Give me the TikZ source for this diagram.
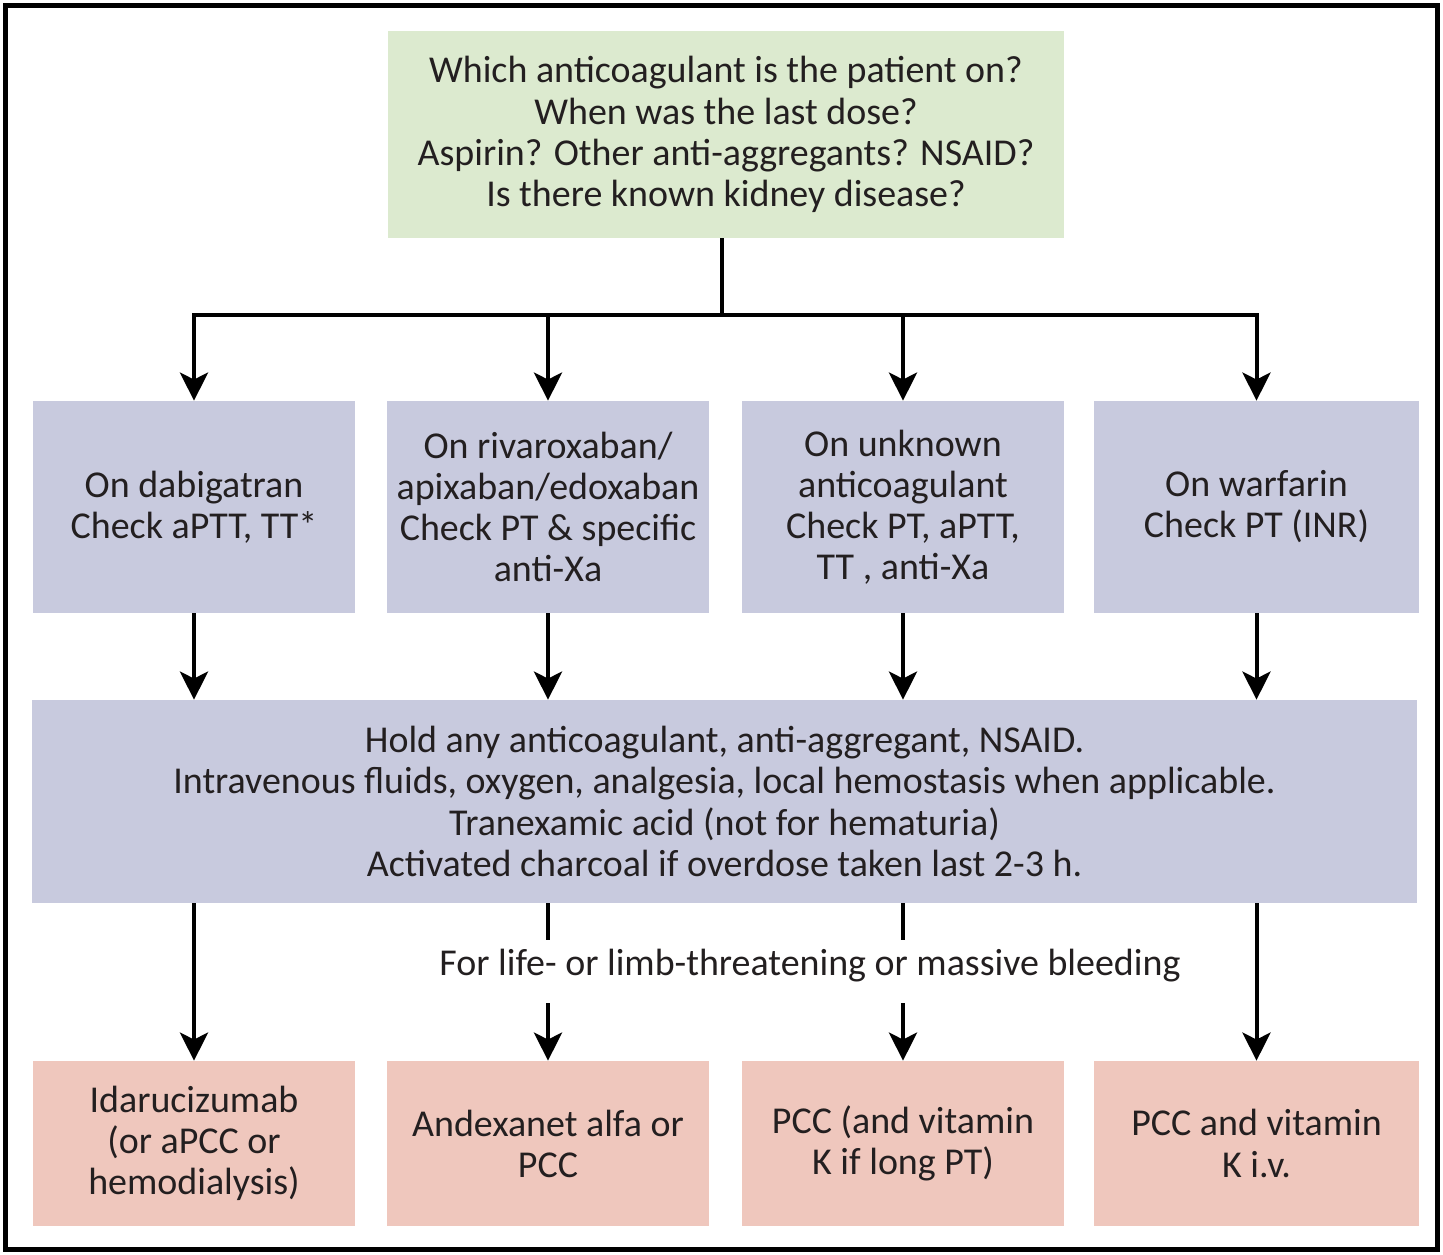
\documentclass[tikz,border=0pt]{standalone}
\usepackage{fontspec}
\setmainfont{Carlito}
\usetikzlibrary{arrows.meta}
\definecolor{topgreen}{HTML}{DCEACF}
\definecolor{midblue}{HTML}{C8CADE}
\definecolor{botpink}{HTML}{EFC7BD}
\definecolor{txt}{HTML}{231F20}
\tikzset{
  box/.style={inner sep=0pt, align=center, text=txt, font=\fontsize{21.6}{23.4}\selectfont, draw=none},
  arr/.style={line width=0.08cm, -{Stealth[length=16pt,width=16pt,inset=4pt]}},
  ln/.style={line width=0.08cm},
}
\begin{document}
\begin{tikzpicture}[x=0.02cm,y=-0.02cm]
\useasboundingbox (0,0) rectangle (1443,1254);
\draw[line width=0.1cm] (5.5,5.5) rectangle (1437.5,1249.5);
% top
\node[box, fill=topgreen, minimum width=676*0.02cm, minimum height=207*0.02cm] (top) at (726,134.5)
 {Which anticoagulant is the patient on?\\When was the last dose?\\Aspirin? Other anti-aggregants? NSAID?\\Is there known kidney disease?};
% row 2
\node[box, fill=midblue, minimum width=322*0.02cm, minimum height=212*0.02cm] (b1) at (194,507)
 {On dabigatran\\Check aPTT, TT*};
\node[box, fill=midblue, minimum width=322*0.02cm, minimum height=212*0.02cm] (b2) at (548,507)
 {On rivaroxaban/\\apixaban/edoxaban\\Check PT \& specific\\anti-Xa};
\node[box, fill=midblue, minimum width=322*0.02cm, minimum height=212*0.02cm] (b3) at (903,507)
 {On unknown\\anticoagulant\\Check PT, aPTT,\\TT , anti-Xa};
\node[box, fill=midblue, minimum width=325*0.02cm, minimum height=212*0.02cm] (b4) at (1256.5,507)
 {On warfarin\\Check PT (INR)};
% middle
\node[box, fill=midblue, minimum width=1385*0.02cm, minimum height=203*0.02cm] (mid) at (724.5,801.5)
 {Hold any anticoagulant, anti-aggregant, NSAID.\\Intravenous fluids, oxygen, analgesia, local hemostasis when applicable.\\Tranexamic acid (not for hematuria)\\Activated charcoal if overdose taken last 2-3 h.};
% bottom
\node[box, fill=botpink, minimum width=322*0.02cm, minimum height=165*0.02cm] (c1) at (194,1143.5)
 {Idarucizumab\\(or aPCC or\\hemodialysis)};
\node[box, fill=botpink, minimum width=322*0.02cm, minimum height=165*0.02cm] (c2) at (548,1143.5)
 {Andexanet alfa or\\PCC};
\node[box, fill=botpink, minimum width=322*0.02cm, minimum height=165*0.02cm] (c3) at (903,1143.5)
 {PCC (and vitamin\\K if long PT)};
\node[box, fill=botpink, minimum width=325*0.02cm, minimum height=165*0.02cm] (c4) at (1256.5,1143.5)
 {PCC and vitamin\\K i.v.};
% connectors top
\coordinate (j) at (722,315);
\draw[ln] (top.south -| j) -- (j);
\draw[arr] (j) -| (b1.north);
\draw[arr] (j) -| (b2.north);
\draw[arr] (j) -| (b3.north);
\draw[arr] (j) -| (b4.north);
% row2 -> mid
\foreach \b in {b1,b2,b3,b4}{\draw[arr] (\b.south) -- (\b.south |- mid.north);}
% mid -> bottom
\draw[arr] (mid.south -| c1.north) -- (c1.north);
\draw[arr] (mid.south -| c4.north) -- (c4.north);
\node[box] (lbl) at (810,966) {For life- or limb-threatening or massive bleeding};
\coordinate (s2) at (548,940);
\coordinate (s3) at (903,940);
\coordinate (t2) at (548,1003);
\coordinate (t3) at (903,1003);
\draw[ln] (mid.south -| s2) -- (s2);
\draw[ln] (mid.south -| s3) -- (s3);
\draw[arr] (t2) -- (c2.north);
\draw[arr] (t3) -- (c3.north);
\end{tikzpicture}
\end{document}
